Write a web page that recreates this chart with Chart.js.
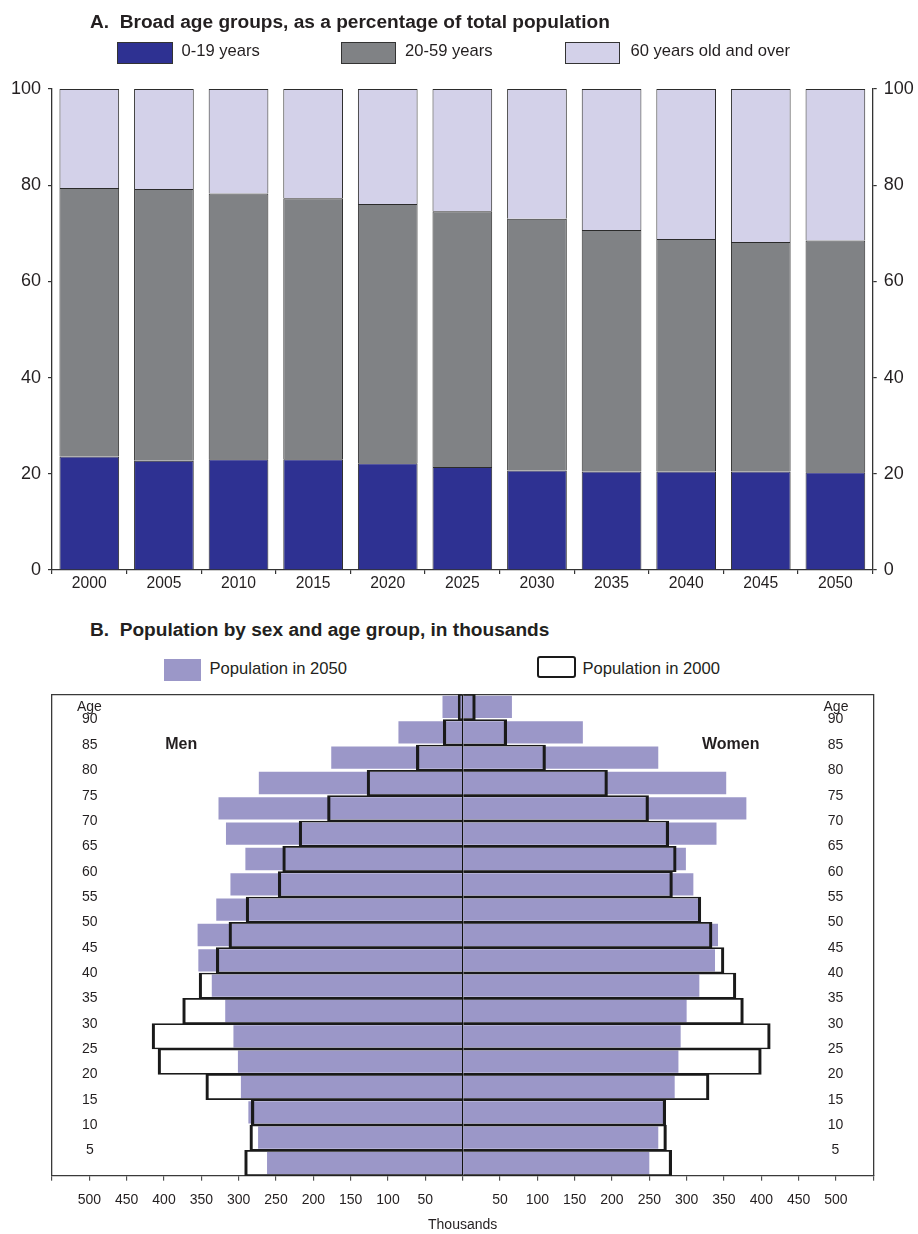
<!DOCTYPE html>
<html>
<head>
<meta charset="utf-8">
<script src="https://cdn.jsdelivr.net/npm/chart.js@4.4.1/dist/chart.umd.min.js"></script>
<style>
  html, body { margin: 0; padding: 0; background: #ffffff; }
  body {
    width: 918px; height: 1234px; position: relative; overflow: hidden;
    font-family: "Liberation Sans", Arial, Helvetica, sans-serif; color: #231f20;
  }
  canvas { position: absolute; left: 0; }
  #shares { top: 0; }
  #pyramid { top: 690px; }
  .title { position: absolute; left: 90px; font-weight: bold; font-size: 19.1px; line-height: 20px; white-space: nowrap; }
  .key { position: absolute; box-sizing: border-box; }
  .keytext { position: absolute; font-size: 16.6px; line-height: 20px; white-space: nowrap; }
</style>
</head>
<body>
<canvas id="shares" width="918" height="610"></canvas>
<canvas id="pyramid" width="918" height="544"></canvas>

<div class="title" style="top:11.7px">A.&nbsp; Broad age groups, as a percentage of total population</div>
<div class="key" style="left:117px;top:42px;width:56px;height:22px;background:#2e3192;border:1px solid #333;"></div>
<div class="keytext" style="left:181.5px;top:41px">0-19 years</div>
<div class="key" style="left:341px;top:42px;width:55px;height:22px;background:#808285;border:1px solid #333;"></div>
<div class="keytext" style="left:405px;top:41px">20-59 years</div>
<div class="key" style="left:565px;top:42px;width:55px;height:22px;background:#d3d1e9;border:1px solid #333;"></div>
<div class="keytext" style="left:630.5px;top:41px">60 years old and over</div>

<div class="title" style="top:620.4px">B.&nbsp; Population by sex and age group, in thousands</div>
<div class="key" style="left:164px;top:659px;width:37px;height:21.5px;background:#9b97c8;"></div>
<div class="keytext" style="left:209.5px;top:659px">Population in 2050</div>
<div class="key" style="left:537px;top:655.5px;width:39px;height:22.5px;background:#ffffff;border:2px solid #1a1a1a;border-radius:3px;"></div>
<div class="keytext" style="left:582.5px;top:659px">Population in 2000</div>

<script>
// ---- Panel A: broad age groups, % of total population ----
const years = ['2000', '2005', '2010', '2015', '2020', '2025', '2030', '2035', '2040', '2045', '2050'];
const share0to19  = [23.6, 22.7, 23.0, 23.0, 22.2, 21.4, 20.7, 20.5, 20.5, 20.5, 20.3];
const share20to59 = [55.8, 56.5, 55.3, 54.3, 53.9, 53.2, 52.3, 50.2, 48.3, 47.7, 48.2];
const share60plus = [20.6, 20.8, 21.7, 22.7, 23.9, 25.4, 27.0, 29.3, 31.2, 31.8, 31.5];
const shareTicks  = [0, 20, 40, 60, 80, 100];

// ---- Panel B: population by sex and five-year age group (thousands) ----
const ageGroups = ['0-4', '5-9', '10-14', '15-19', '20-24', '25-29', '30-34', '35-39', '40-44',
                   '45-49', '50-54', '55-59', '60-64', '65-69', '70-74', '75-79', '80-84', '85-89', '90+'];
const men2050   = [262, 274, 287, 297, 301, 307, 318, 336, 354, 355, 330, 311, 291, 317, 327, 273, 176, 86, 27];
const women2050 = [250, 262, 271, 284, 289, 292, 300, 317, 338, 342, 316, 309, 299, 340, 380, 353, 262, 161, 66];
const men2000   = [292, 285, 283, 344, 408, 416, 375, 353, 330, 313, 290, 247, 241, 219, 181, 128, 62, 26, 6];
const women2000 = [280, 273, 272, 330, 400, 412, 376, 366, 350, 334, 319, 281, 286, 276, 249, 194, 111, 59, 17];
const ageTicks  = [5, 10, 15, 20, 25, 30, 35, 40, 45, 50, 55, 60, 65, 70, 75, 80, 85, 90];

const FONT = '"Liberation Sans", Arial, Helvetica, sans-serif';
const TEXT = '#231f20';
const AXIS = '#333333';
const FRAME = '#3a3a3a';

Chart.defaults.font.family = FONT;
Chart.defaults.color = TEXT;

function fixedWidth(w) {
  return s => { s.width = w; s.paddingTop = 0; s.paddingBottom = 0; };
}
function fixedHeight(h) {
  return s => { s.height = h; s.paddingLeft = 0; s.paddingRight = 0; };
}

function shareAxis(position, width) {
  return {
    type: 'linear', position, stacked: true, min: 0, max: 100,
    afterBuildTicks: s => { s.ticks = shareTicks.map(v => ({ value: v })); },
    ticks: { font: { size: 18 }, color: TEXT, padding: 7 },
    grid: { drawOnChartArea: false, tickLength: 4, tickColor: AXIS, lineWidth: 1.2 },
    border: { color: AXIS, width: 1.3 },
    afterFit: fixedWidth(width)
  };
}

new Chart(document.getElementById('shares'), {
  type: 'bar',
  data: {
    labels: years,
    datasets: [
      { label: '0-19 years', data: share0to19, backgroundColor: '#2e3192' },
      { label: '20-59 years', data: share20to59, backgroundColor: '#808285' },
      { label: '60 years old and over', data: share60plus, backgroundColor: '#d3d1e9' }
    ]
  },
  options: {
    responsive: false, animation: false, devicePixelRatio: 1,
    layout: { padding: { top: 89, left: 0, right: 0, bottom: 0 } },
    datasets: {
      bar: {
        barPercentage: 0.8, categoryPercentage: 1,
        borderColor: '#2b2b2b', borderSkipped: false,
        borderWidth: { top: 1, left: 1, right: 1, bottom: 0 }
      }
    },
    plugins: { legend: { display: false }, tooltip: { enabled: false } },
    scales: {
      x: {
        type: 'category', stacked: true,
        grid: { offset: true, drawOnChartArea: false, tickLength: 4, tickColor: AXIS, lineWidth: 1.2 },
        border: { color: AXIS, width: 1.3 },
        ticks: { font: { size: 15.7 }, color: TEXT, padding: 0, maxRotation: 0, autoSkip: false },
        afterFit: fixedHeight(40)
      },
      y: shareAxis('left', 52),
      y2: shareAxis('right', 45.3)
    }
  }
});

// Text notes inside the pyramid frame: "Age" headers and the sex captions.
const pyramidNotes = {
  id: 'pyramidNotes',
  afterDraw(chart) {
    const { ctx, scales: { x, ageL } } = chart;
    ctx.save();
    ctx.fillStyle = TEXT;
    ctx.textAlign = 'center';
    ctx.textBaseline = 'alphabetic';
    ctx.font = '14px ' + FONT;
    const ageY = ageL.getPixelForValue(90) - 9;
    ctx.fillText('Age', x.getPixelForValue(-500), ageY);
    ctx.fillText('Age', x.getPixelForValue(500), ageY);
    ctx.font = 'bold 16px ' + FONT;
    ctx.textBaseline = 'middle';
    const sideY = ageL.getPixelForValue(85);
    ctx.fillText('Men', x.getPixelForValue(-377), sideY);
    ctx.fillText('Women', x.getPixelForValue(359), sideY);
    ctx.restore();
  }
};

function ageAxis(position, width, padding) {
  return {
    type: 'linear', position, min: 0, max: 95, offset: false,
    afterBuildTicks: s => { s.ticks = ageTicks.map(v => ({ value: v })); },
    ticks: { mirror: true, crossAlign: 'center', padding, font: { size: 14 }, color: TEXT, autoSkip: false },
    grid: { display: false, offset: false },
    border: { display: true, color: FRAME, width: 1.3 },
    afterFit: fixedWidth(width)
  };
}

const outline2000 = {
  backgroundColor: 'rgba(0,0,0,0)', borderColor: '#1a1a1a',
  barPercentage: 1, categoryPercentage: 1, grouped: false, borderSkipped: 'start'
};
const fill2050 = {
  backgroundColor: '#9b97c8', borderWidth: 0,
  barPercentage: 0.88, categoryPercentage: 1, grouped: false
};

new Chart(document.getElementById('pyramid'), {
  type: 'bar',
  data: {
    labels: ageGroups,
    datasets: [
      Object.assign({ label: 'Men, 2000', data: men2000.map(v => -v), xAxisID: 'x',
        borderWidth: { left: 2.5, top: 1, bottom: 1, right: 0 } }, outline2000),
      Object.assign({ label: 'Women, 2000', data: women2000, xAxisID: 'x',
        borderWidth: { right: 2.5, top: 1, bottom: 1, left: 0 } }, outline2000),
      Object.assign({ label: 'Men, 2050', data: men2050.map(v => -v), xAxisID: 'x' }, fill2050),
      Object.assign({ label: 'Women, 2050', data: women2050, xAxisID: 'x' }, fill2050)
    ]
  },
  options: {
    indexAxis: 'y',
    responsive: false, animation: false, devicePixelRatio: 1,
    layout: { padding: { top: 4.3, left: 0, right: 0, bottom: 0 } },
    plugins: { legend: { display: false }, tooltip: { enabled: false } },
    scales: {
      y: { type: 'category', reverse: true, offset: true, display: false },
      ageL: ageAxis('left', 52, 30),
      ageR: ageAxis('right', 44.7, -30),
      xTop: {
        type: 'linear', position: 'top', min: -550, max: 550,
        grid: { display: false }, ticks: { display: false },
        border: { display: true, color: FRAME, width: 1.3 },
        afterFit: fixedHeight(0)
      },
      x: {
        type: 'linear', position: 'bottom', min: -550, max: 550, z: 1,
        ticks: {
          stepSize: 50, autoSkip: false, maxRotation: 0, padding: 11,
          font: { size: 14 }, color: TEXT,
          callback: v => (v === 0 || Math.abs(v) >= 550) ? '' : String(Math.abs(v))
        },
        grid: {
          display: true, drawOnChartArea: true,
          color: c => (c.tick && c.tick.value === 0) ? '#111111' : 'rgba(0,0,0,0)',
          lineWidth: 1.3, tickColor: AXIS, tickLength: 5, tickWidth: 1
        },
        border: { display: true, color: FRAME, width: 1.3 },
        title: { display: true, text: 'Thousands', font: { size: 14 }, color: TEXT, padding: { top: 0, bottom: 0 } },
        afterFit: fixedHeight(58.3)
      }
    }
  },
  plugins: [pyramidNotes]
});
</script>
</body>
</html>
